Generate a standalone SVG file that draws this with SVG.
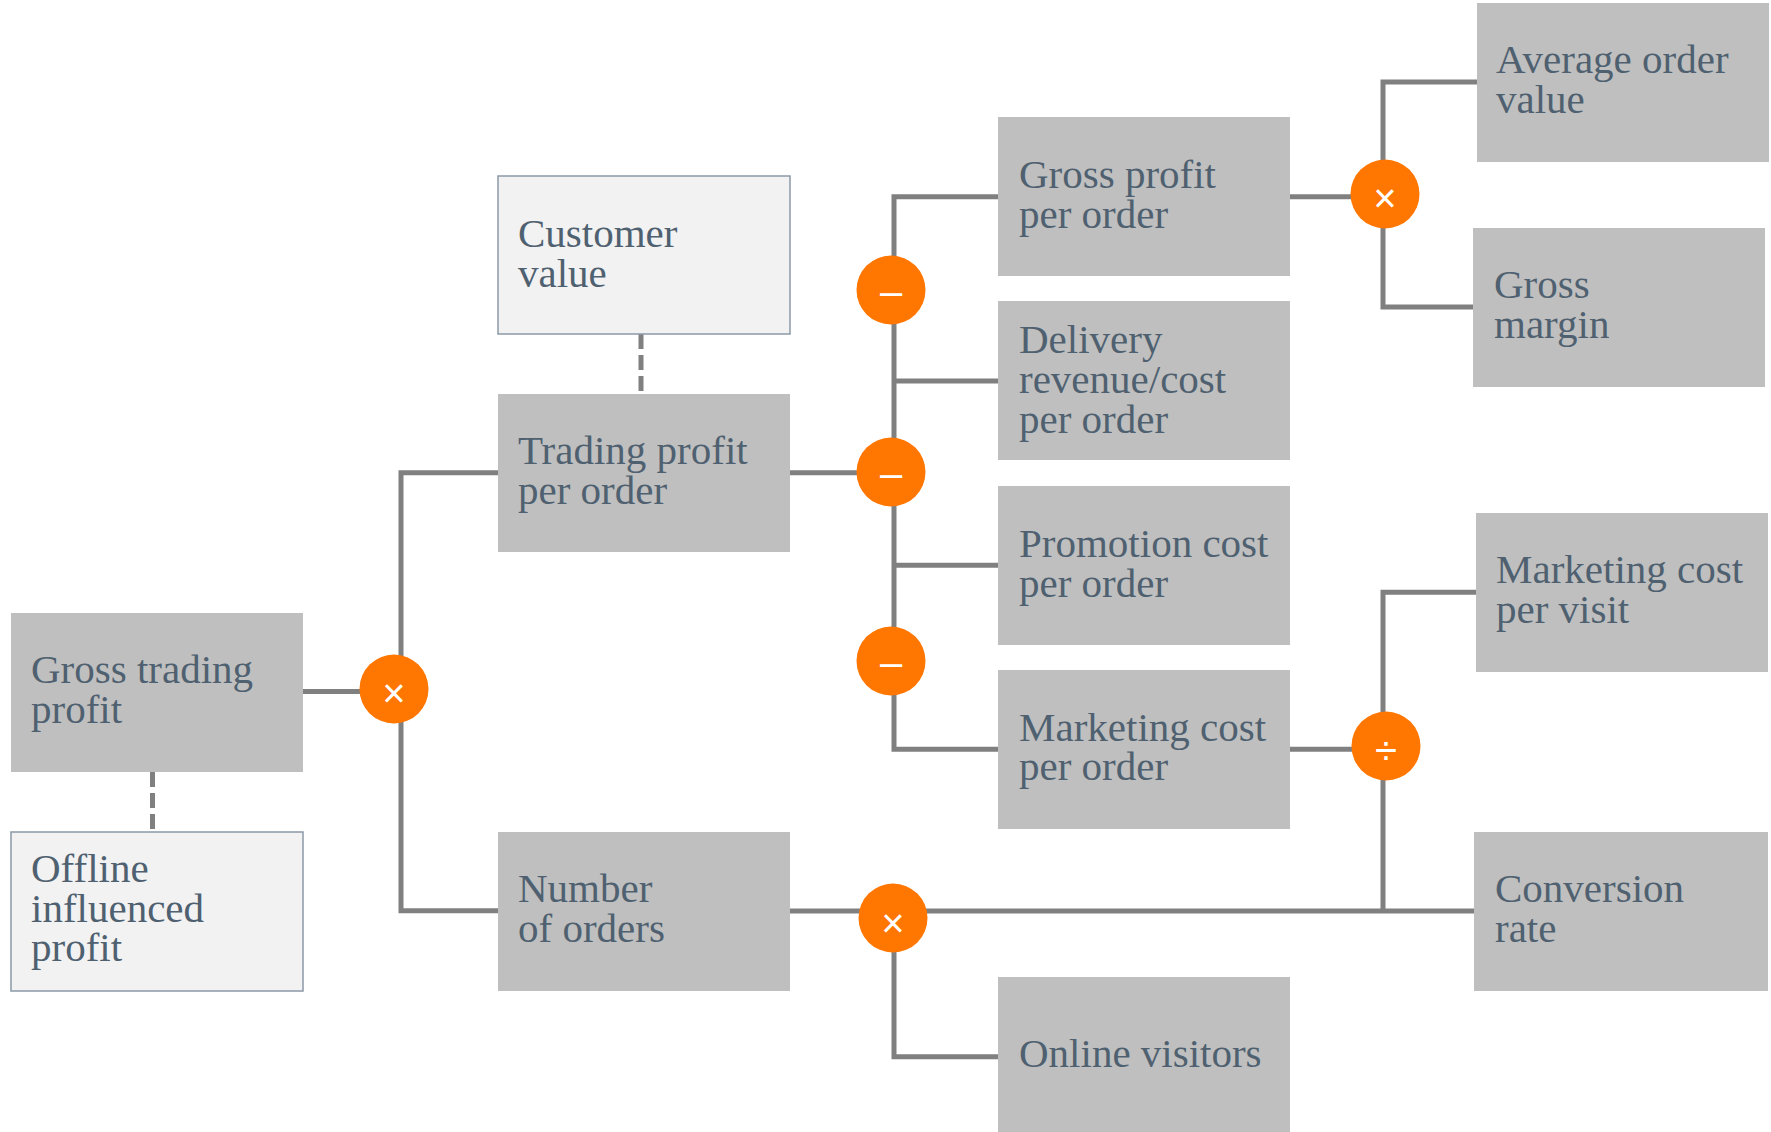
<svg xmlns="http://www.w3.org/2000/svg" width="1771" height="1132" viewBox="0 0 1771 1132">
<style>
.box{fill:#bfbfbf}
.lbox{fill:#f2f2f2;stroke:#8a99a6;stroke-width:1.5}
.t{font-family:"Liberation Serif","Times New Roman",serif;font-size:41px;fill:#4f6170}
.c{fill:none;stroke:#808080;stroke-width:5}
.d{fill:none;stroke:#808080;stroke-width:5;stroke-dasharray:15 6}
.op{fill:#ff7600}
.s{font-family:"Liberation Sans",Arial,sans-serif;font-size:40px;fill:#ffffff;text-anchor:middle}
</style>
<rect width="1771" height="1132" fill="#ffffff"/>
<g id="connectors">
<path class="c" d="M303 691.5 H401"/>
<path class="c" d="M498 472.7 H401 V910.7 H498"/>
<path class="c" d="M790 472.7 H894"/>
<path class="c" d="M998 196.7 H894 V749.3 H998"/>
<path class="c" d="M894 381 H998"/>
<path class="c" d="M894 565.3 H998"/>
<path class="c" d="M790 911 H1474"/>
<path class="c" d="M894 911 V1056.7 H998"/>
<path class="c" d="M1290 196.7 H1383"/>
<path class="c" d="M1477 82 H1383 V307 H1473"/>
<path class="c" d="M1290 749.3 H1383"/>
<path class="c" d="M1476 592.3 H1383 V911"/>
<path class="d" d="M152.5 772 V832"/>
<path class="d" d="M641 334 V394"/>
</g>
<g id="gross-trading-profit"><rect class="box" x="11" y="613" width="292" height="159"/><text class="t" x="31" y="683">Gross trading</text><text class="t" x="31" y="723">profit</text></g>
<g id="offline-influenced-profit"><rect class="lbox" x="11" y="832" width="292" height="159"/><text class="t" x="31" y="882">Offline</text><text class="t" x="31" y="922">influenced</text><text class="t" x="31" y="961">profit</text></g>
<g id="customer-value"><rect class="lbox" x="498" y="176" width="292" height="158"/><text class="t" x="518" y="247">Customer</text><text class="t" x="518" y="287">value</text></g>
<g id="trading-profit-per-order"><rect class="box" x="498" y="394" width="292" height="158"/><text class="t" x="518" y="464">Trading profit</text><text class="t" x="518" y="504">per order</text></g>
<g id="number-of-orders"><rect class="box" x="498" y="832" width="292" height="159"/><text class="t" x="518" y="902">Number</text><text class="t" x="518" y="942">of orders</text></g>
<g id="gross-profit-per-order"><rect class="box" x="998" y="117" width="292" height="159"/><text class="t" x="1019" y="188">Gross profit</text><text class="t" x="1019" y="228">per order</text></g>
<g id="delivery"><rect class="box" x="998" y="301" width="292" height="159"/><text class="t" x="1019" y="353">Delivery</text><text class="t" x="1019" y="393">revenue/cost</text><text class="t" x="1019" y="433">per order</text></g>
<g id="promotion-cost"><rect class="box" x="998" y="486" width="292" height="159"/><text class="t" x="1019" y="557">Promotion cost</text><text class="t" x="1019" y="597">per order</text></g>
<g id="marketing-cost-per-order"><rect class="box" x="998" y="670" width="292" height="159"/><text class="t" x="1019" y="741">Marketing cost</text><text class="t" x="1019" y="780">per order</text></g>
<g id="online-visitors"><rect class="box" x="998" y="977" width="292" height="160"/><text class="t" x="1019" y="1067">Online visitors</text></g>
<g id="average-order-value"><rect class="box" x="1477" y="3" width="292" height="159"/><text class="t" x="1496" y="73">Average order</text><text class="t" x="1496" y="113">value</text></g>
<g id="gross-margin"><rect class="box" x="1473" y="228" width="292" height="159"/><text class="t" x="1494" y="298">Gross</text><text class="t" x="1494" y="338">margin</text></g>
<g id="marketing-cost-per-visit"><rect class="box" x="1476" y="513" width="292" height="159"/><text class="t" x="1496" y="583">Marketing cost</text><text class="t" x="1496" y="623">per visit</text></g>
<g id="conversion-rate"><rect class="box" x="1474" y="832" width="294" height="159"/><text class="t" x="1495" y="902">Conversion</text><text class="t" x="1495" y="942">rate</text></g>
<g id="op-multiply-1"><circle class="op" cx="394" cy="689" r="34.5"/><text class="s" x="394" y="707">×</text></g>
<g id="op-minus-1"><circle class="op" cx="891" cy="290" r="34.5"/><text class="s" x="891" y="305">–</text></g>
<g id="op-minus-2"><circle class="op" cx="891" cy="472" r="34.5"/><text class="s" x="891" y="487">–</text></g>
<g id="op-minus-3"><circle class="op" cx="891" cy="661" r="34.5"/><text class="s" x="891" y="676">–</text></g>
<g id="op-multiply-2"><circle class="op" cx="893" cy="918" r="34.5"/><text class="s" x="893" y="937">×</text></g>
<g id="op-multiply-3"><circle class="op" cx="1385" cy="194" r="34.5"/><text class="s" x="1385" y="212">×</text></g>
<g id="op-divide"><circle class="op" cx="1386" cy="746" r="34.5"/><text class="s" x="1386" y="764">÷</text></g>
</svg>
